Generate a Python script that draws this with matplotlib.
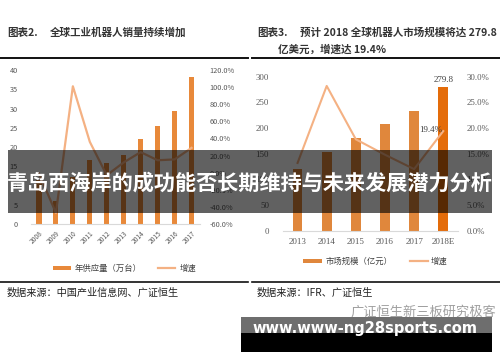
import matplotlib
matplotlib.use("Agg")
import matplotlib.pyplot as plt
from matplotlib.patches import Rectangle
from matplotlib.lines import Line2D
from matplotlib.ticker import FuncFormatter

plt.rcParams['font.family'] = ['Noto Sans CJK SC', 'DejaVu Sans']

## left chart data: global industrial robot sales
years_l = ["2008", "2009", "2010", "2011", "2012", "2013", "2014", "2015", "2016", "2017"]
sales_l = [11.3, 6.0, 12.1, 16.6, 15.9, 17.8, 22.1, 25.4, 29.4, 38.1]
growth_l = [-1.0, -47.0, 101.0, 36.0, -3.0, 12.0, 24.0, 14.5, 15.5, 29.0]

## right chart data: global robot market size
years_r = ["2013", "2014", "2015", "2016", "2017", "2018E"]
market_r = [120.0, 154.0, 181.0, 208.0, 234.0, 279.8]
growth_r = [13.2, 28.2, 17.8, 14.8, 12.0, 19.4]

W, H = 500, 362
fig = plt.figure(figsize=(W / 100, H / 100), dpi=100)
fig.patch.set_facecolor("white")


def box(x0, y0, x1, y1):
    ## pixel box (top-left origin) -> figure fraction rect
    return [x0 / W, 1 - y1 / H, (x1 - x0) / W, (y1 - y0) / H]


def fx(x):
    return x / W


def fy(y):
    return 1 - y / H


bar_l = "#E8893A"
bar_r = "#E0873C"
bar_r_last = "#E46C0A"
line_c = "#F4B183"
tick_c = "#595959"

## ----- left chart -----
ax1 = fig.add_axes(box(30.5, 70, 200, 224))
xl = range(len(years_l))
ax1.bar(xl, sales_l, width=0.3, color=bar_l, zorder=2)
ax1.set_ylim(0, 40)
ax1.set_yticks(range(0, 41, 5))
ax1.set_xlim(-0.5, len(years_l) - 0.5)
ax1.set_xticks(list(xl))
ax1.set_xticklabels(years_l, rotation=45, ha="right", rotation_mode="anchor")
for s in ["top", "right", "left"]:
    ax1.spines[s].set_visible(False)
ax1.spines["bottom"].set_color("#D9D9D9")
ax1.tick_params(axis="y", length=0, pad=9, labelsize=5.3, labelcolor=tick_c)
ax1.tick_params(axis="x", length=0, pad=4, labelsize=4.8, labelcolor=tick_c)

ax1b = ax1.twinx()
ax1b.plot(list(xl), growth_l, color=line_c, lw=1.6, zorder=3)
ax1b.set_ylim(-60, 120)
ax1b.set_yticks(range(-60, 121, 20))
ax1b.yaxis.set_major_formatter(FuncFormatter(lambda v, p: f"{v:.1f}%"))
for s in ["top", "right", "left", "bottom"]:
    ax1b.spines[s].set_visible(False)
ax1b.tick_params(axis="y", length=0, pad=7, labelsize=5.3, labelcolor=tick_c)

## ----- right chart -----
ax2 = fig.add_axes(box(283, 76.7, 457.8, 230.7))
xr = range(len(years_r))
colors_r = [bar_r] * (len(years_r) - 1) + [bar_r_last]
ax2.bar(xr, market_r, width=0.33, color=colors_r, zorder=2)
ax2.set_ylim(0, 300)
ax2.set_yticks(range(0, 301, 50))
ax2.set_xlim(-0.5, len(years_r) - 0.5)
ax2.set_xticks(list(xr))
ax2.set_xticklabels(years_r)
for s in ["top", "right", "left"]:
    ax2.spines[s].set_visible(False)
ax2.spines["bottom"].set_color("#D9D9D9")
ax2.tick_params(axis="y", length=0, pad=10, labelsize=6.3, labelcolor=tick_c)
ax2.tick_params(axis="x", length=0, pad=5, labelsize=6.5, labelcolor=tick_c)
for lab in ax2.get_yticklabels() + ax2.get_xticklabels():
    lab.set_family("Liberation Serif")
ax2.text(xr[-1], market_r[-1] + 6, f"{market_r[-1]:.1f}", ha="center", va="bottom",
         fontsize=6.5, color="#404040", family="Liberation Serif")

ax2b = ax2.twinx()
ax2b.plot(list(xr), growth_r, color=line_c, lw=1.5, zorder=3)
ax2b.set_ylim(0, 30)
ax2b.set_yticks(range(0, 31, 5))
ax2b.yaxis.set_major_formatter(FuncFormatter(lambda v, p: f"{v:.1f}%"))
for s in ["top", "right", "left", "bottom"]:
    ax2b.spines[s].set_visible(False)
ax2b.tick_params(axis="y", length=0, pad=6, labelsize=6.3, labelcolor=tick_c)
for lab in ax2b.get_yticklabels():
    lab.set_family("Liberation Serif")
ax2b.text(xr[-1] - 0.42, growth_r[-1] + 0.3, f"{growth_r[-1]:.1f}%", ha="center", va="center",
          fontsize=6.5, color="#404040", family="Liberation Serif")

## ----- titles and rules -----
fig.text(fx(7), fy(33), "图表2.", fontsize=7.6, fontweight="bold", color="#333333", va="center")
fig.text(fx(50), fy(33), "全球工业机器人销量持续增加", fontsize=7.6, fontweight="bold",
         color="#333333", va="center")
fig.text(fx(257), fy(33), "图表3.", fontsize=7.6, fontweight="bold", color="#333333", va="center")
fig.text(fx(300), fy(33), "预计 2018 全球机器人市场规模将达 279.8", fontsize=7.6,
         fontweight="bold", color="#333333", va="center")
fig.text(fx(278), fy(50), "亿美元，增速达 19.4%", fontsize=7.6, fontweight="bold",
         color="#333333", va="center")

for x0, x1 in [(0, 248), (252, 500)]:
    fig.add_artist(Line2D([fx(x0), fx(x1)], [fy(58), fy(58)], color="#111111", lw=1.4))
    fig.add_artist(Line2D([fx(x0), fx(x1)], [fy(282), fy(282)], color="#111111", lw=1.2))

## ----- legends -----
fig.add_artist(Rectangle((fx(53), fy(269.5)), 18 / W, 3.5 / H, color=bar_l, lw=0))
fig.text(fx(75), fy(268), "年供应量（万台）", fontsize=6, color="#404040", va="center")
fig.add_artist(Line2D([fx(158), fx(175)], [fy(268), fy(268)], color=line_c, lw=1.6))
fig.text(fx(180), fy(268), "增速", fontsize=6, color="#404040", va="center")

fig.add_artist(Rectangle((fx(303), fy(262.5)), 19 / W, 3.5 / H, color=bar_r, lw=0))
fig.text(fx(326), fy(261), "市场规模（亿元）", fontsize=6, color="#404040", va="center")
fig.add_artist(Line2D([fx(410), fx(428)], [fy(261), fy(261)], color=line_c, lw=1.6))
fig.text(fx(431), fy(261), "增速", fontsize=6, color="#404040", va="center")

## ----- sources -----
fig.text(fx(7), fy(293), "数据来源：中国产业信息网、广证恒生", fontsize=7.3, color="#222222", va="center")
fig.text(fx(257), fy(293), "数据来源：IFR、广证恒生", fontsize=7.3, color="#222222", va="center")
fig.text(fx(350), fy(312), "广证恒生新三板研究极客", fontsize=9.5, color="#A0A0A0", va="center")

## ----- overlay banners -----
fig.add_artist(Rectangle((fx(8), fy(213)), 484 / W, 63 / H, color="black", alpha=0.62, lw=0, zorder=10))
fig.text(fx(250), fy(183), "青岛西海岸的成功能否长期维持与未来发展潜力分析", fontsize=15.2,
         fontweight="bold", color="white", ha="center", va="center", zorder=11)

fig.add_artist(Rectangle((fx(240.5), fy(333.3)), 251 / W, 16.6 / H, color="#6E6E6E", lw=0, zorder=10))
fig.add_artist(Rectangle((fx(240.5), fy(351.7)), 251 / W, 18.4 / H, color="black", lw=0, zorder=10))
fig.text(fx(365), fy(328), "www.www-ng28sports.com", fontsize=10.5, fontweight="bold",
         color="white", ha="center", va="center", family="DejaVu Sans", zorder=11)

fig.savefig("out.png", dpi=100)
